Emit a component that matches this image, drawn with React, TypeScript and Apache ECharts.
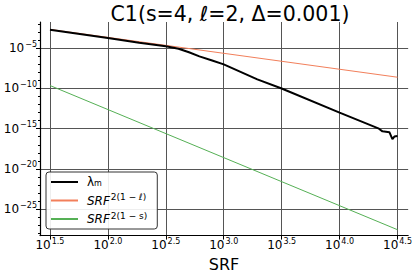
import React, { useEffect, useRef } from 'react';
import * as echarts from 'echarts';

// log10 of SRF tick positions and log10 of value tick positions
const xTickExps = [1.5, 2.0, 2.5, 3.0, 3.5, 4.0, 4.5];
const yTickExps = [-25, -20, -15, -10, -5];
const yMinorExps = [-28, -27, -26, -24, -23, -22, -21, -19, -18, -17, -16, -14, -13, -12, -11, -9, -8, -7, -6, -4, -3, -2];

// λm curve (log10 SRF, log10 λm)
const lambdaSrfExp = [1.5, 2.0, 2.27, 2.5, 2.61, 2.7, 2.79, 2.9, 3.0, 3.29, 3.5, 4.0, 4.34, 4.37, 4.4, 4.43, 4.456, 4.473, 4.5];
const lambdaExp = [-2.7, -3.72, -4.3, -4.75, -5.05, -5.5, -6.0, -6.52, -7.0, -8.87, -10.0, -13.0, -15.0, -15.33, -15.37, -15.43, -16.3, -15.98, -15.9];

// SRF^{2(1-ℓ)} reference line
const lineLSrfExp = [1.5, 4.5];
const lineLExp = [-2.65, -8.6];

// SRF^{2(1-s)} reference line
const lineSSrfExp = [1.5, 4.5];
const lineSExp = [-9.63, -27.57];

const FONT = 'DejaVu Sans';

const zip = (a: number[], b: number[]) => a.map((v, i) => [v, b[i]]);

export default function App() {
  const ref = useRef<HTMLDivElement>(null);
  useEffect(() => {
    if (!ref.current) return;
    const chart = echarts.init(ref.current, undefined, { renderer: 'svg' });
    const xMin = 1.414, xMax = 4.592, yMin = -28.3, yMax = -1.73;
    const hidden = { color: 'rgba(0,0,0,0)', borderWidth: 0 };
    chart.setOption({
      animation: false,
      backgroundColor: '#fff',
      textStyle: { fontFamily: FONT },
      title: {
        text: 'C1(s=4, ℓ=2, Δ=0.001)',
        left: 225,
        textAlign: 'center',
        top: -2,
        textStyle: { fontFamily: FONT, fontSize: 20.5, fontWeight: 'normal', color: '#000' },
      },
      grid: { left: 40, right: 5, top: 22, bottom: 40, containLabel: false },
      legend: {
        orient: 'vertical',
        left: 46,
        top: 172,
        padding: [4, 10, 4, 4],
        itemWidth: 27,
        itemHeight: 14,
        itemGap: 4.5,
        backgroundColor: 'rgba(255,255,255,0.9)',
        borderColor: '#333',
        borderWidth: 1,
        borderRadius: 3,
        itemStyle: { opacity: 0 },
        data: ['λm', 'SRF^2(1−ℓ)', 'SRF^2(1−s)'],
        formatter: (name: string) => {
          if (name === 'λm') return '{g|λ}{sub|m}';
          if (name === 'SRF^2(1−ℓ)') return '{it|SRF}{sup|2(1 − ℓ)}';
          return '{it|SRF}{sup|2(1 − s)}';
        },
        textStyle: {
          fontFamily: FONT,
          color: '#000',
          padding: [0, 0, 0, 4],
          rich: {
            g: { fontFamily: FONT, fontSize: 12, color: '#000', lineHeight: 18 },
            sub: { fontFamily: FONT, fontSize: 8, color: '#000', padding: [3, 0, 0, 0] },
            it: { fontFamily: FONT, fontSize: 12, fontStyle: 'italic', color: '#000', lineHeight: 18 },
            sup: { fontFamily: FONT, fontSize: 9, color: '#000', padding: [0, 0, 7, 1] },
          },
        },
      },
      xAxis: {
        type: 'value',
        min: xMin,
        max: xMax,
        name: 'SRF',
        nameLocation: 'middle',
        nameGap: 19,
        nameTextStyle: { fontFamily: FONT, fontSize: 16, color: '#000' },
        axisLine: { show: true, lineStyle: { color: '#000', width: 1.2 } },
        axisTick: { show: true, length: 4, customValues: xTickExps, lineStyle: { color: '#000' } },
        axisLabel: {
          customValues: xTickExps,
          margin: 0,
          formatter: (v: number) => `{b|10}{s|${v.toFixed(1)}}`,
          rich: {
            b: { fontFamily: FONT, fontSize: 12, color: '#000', lineHeight: 19 },
            s: { fontFamily: FONT, fontSize: 8, color: '#000', padding: [0, 0, 8, 1] },
          },
        },
        splitLine: { show: true, lineStyle: { color: '#555', width: 1 } },
      },
      yAxis: [
        {
          type: 'value',
          min: yMin,
          max: yMax,
          position: 'left',
          axisLine: { show: true, lineStyle: { color: '#000', width: 1.2 } },
          axisTick: { show: true, length: 4, customValues: yTickExps, lineStyle: { color: '#000' } },
          axisLabel: {
            customValues: yTickExps,
            margin: 3,
            formatter: (v: number) => `{b|10}{s|−${Math.abs(v)}}`,
            rich: {
              b: { fontFamily: FONT, fontSize: 12, color: '#000', lineHeight: 20 },
              s: { fontFamily: FONT, fontSize: 8, color: '#000', padding: [0, 0, 8, 1] },
            },
          },
          splitLine: { show: true, lineStyle: { color: '#555', width: 1 } },
        },
        {
          type: 'value',
          min: yMin,
          max: yMax,
          position: 'left',
          offset: 0,
          axisLine: { show: false },
          axisTick: { show: true, length: 2, customValues: yMinorExps, lineStyle: { color: '#000' } },
          axisLabel: { show: false },
          splitLine: { show: false },
        },
      ],
      series: [
        {
          name: 'λm',
          type: 'line',
          data: zip(lambdaSrfExp, lambdaExp),
          symbol: 'none',
          lineStyle: { color: '#000', width: 2 },
          itemStyle: hidden,
          z: 4,
        },
        {
          name: 'SRF^2(1−ℓ)',
          type: 'line',
          data: zip(lineLSrfExp, lineLExp),
          symbol: 'none',
          lineStyle: { color: '#f27f5b', width: 1 },
          itemStyle: hidden,
          z: 3,
        },
        {
          name: 'SRF^2(1−s)',
          type: 'line',
          data: zip(lineSSrfExp, lineSExp),
          symbol: 'none',
          lineStyle: { color: '#55b055', width: 1 },
          itemStyle: hidden,
          z: 3,
        },
      ],
    });
    return () => chart.dispose();
  }, []);
  return (
    <div
      ref={ref}
      style={{ position: 'fixed', left: 0, top: 0, width: 415, height: 277, background: '#fff' }}
    />
  );
}
